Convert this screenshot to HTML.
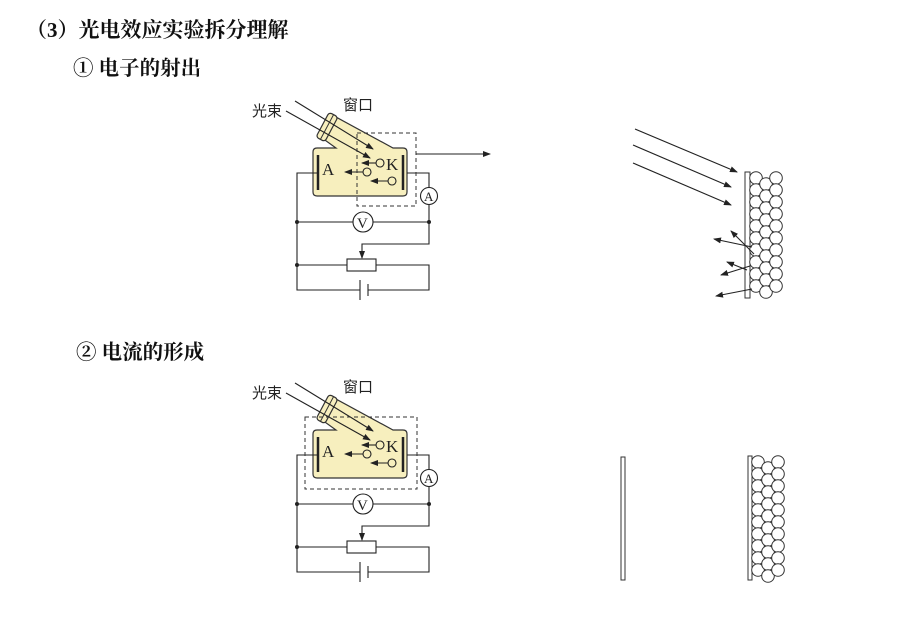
<!DOCTYPE html>
<html><head><meta charset="utf-8"><style>
body{margin:0;background:#fff;}
svg{display:block;}
.t{font-family:"Liberation Serif","Noto Serif CJK SC","Noto Sans CJK SC",serif;font-weight:bold;fill:#111;}
.s{font-family:"Liberation Sans","Noto Sans CJK SC",sans-serif;fill:#222;font-size:15px;}
.l{font-family:"Liberation Serif",serif;fill:#222;}
</style></head><body>
<svg width="921" height="632" viewBox="0 0 921 632" xmlns="http://www.w3.org/2000/svg">
<defs>
<marker id="ah" markerWidth="8" markerHeight="8" refX="7" refY="4" orient="auto" markerUnits="userSpaceOnUse"><path d="M0,1 L8,4 L0,7 Z" fill="#222"/></marker>
<g id="col"><circle cx="0" cy="0" r="6.3"/><circle cx="0" cy="12" r="6.3"/><circle cx="0" cy="24" r="6.3"/><circle cx="0" cy="36" r="6.3"/><circle cx="0" cy="48" r="6.3"/><circle cx="0" cy="60" r="6.3"/><circle cx="0" cy="72" r="6.3"/><circle cx="0" cy="84" r="6.3"/><circle cx="0" cy="96" r="6.3"/><circle cx="0" cy="108" r="6.3"/></g>
<g id="circ">
  <text class="s" x="252" y="116">光束</text>
  <text class="s" x="343" y="110">窗口</text>
  <path d="M317,148 L336,148 L322,138 L334,116 L393,148 L403,148 Q407,148 407,152 L407,192 Q407,196 403,196 L317,196 Q313,196 313,192 L313,152 Q313,148 317,148 Z" fill="#f7efbe" stroke="#333" stroke-width="1.2"/>
  <g transform="translate(327,127) rotate(28)"><rect x="-5" y="-14" width="10" height="28" rx="3" fill="#f7efbe" stroke="#333" stroke-width="1.2"/><line x1="0" y1="-14" x2="0" y2="14" stroke="#333" stroke-width="1"/></g>
  <line x1="295" y1="101" x2="373" y2="149" stroke="#222" stroke-width="1.1" marker-end="url(#ah)"/>
  <line x1="286" y1="111" x2="370" y2="158" stroke="#222" stroke-width="1.1" marker-end="url(#ah)"/>
  <line x1="318" y1="155" x2="318" y2="190" stroke="#222" stroke-width="2.5"/>
  <line x1="403" y1="155" x2="403" y2="190" stroke="#222" stroke-width="2.5"/>
  <text class="l" x="322" y="175" font-size="17">A</text>
  <text class="l" x="386" y="170" font-size="17">K</text>
  <g stroke="#222" stroke-width="1.1" fill="none">
   <circle cx="380" cy="163" r="4"/><line x1="376" y1="163" x2="362" y2="163" marker-end="url(#ah)"/>
   <circle cx="367" cy="172" r="4"/><line x1="363" y1="172" x2="345" y2="172" marker-end="url(#ah)"/>
   <circle cx="392" cy="181" r="4"/><line x1="388" y1="181" x2="371" y2="181" marker-end="url(#ah)"/>
  </g>
  <g stroke="#222" stroke-width="1.1" fill="none">
   <path d="M318,173 L297,173 L297,290 L360,290"/>
   <path d="M368,290 L429,290 L429,265 L376,265"/>
   <path d="M347,265 L297,265"/>
   <path d="M407,173 L429,173 L429,188"/>
   <path d="M429,204 L429,244 L362,244 L362,258" marker-end="url(#ah)"/>
   <path d="M297,222 L353,222 M373,222 L429,222"/>
   <rect x="347" y="259" width="29" height="12" fill="#fff"/>
   <line x1="360" y1="280" x2="360" y2="300"/>
   <line x1="368" y1="284" x2="368" y2="296"/>
   <circle cx="429" cy="196" r="8.5" fill="#fff"/>
   <circle cx="363" cy="222" r="10" fill="#fff"/>
  </g>
  <text class="l" x="424" y="201" font-size="13">A</text>
  <text class="l" x="357" y="228" font-size="15">V</text>
  <circle cx="297" cy="222" r="2" fill="#222"/><circle cx="429" cy="222" r="2" fill="#222"/><circle cx="297" cy="265" r="2" fill="#222"/>
</g>
</defs>
<text class="t" x="26" y="37" font-size="21">（3）光电效应实验拆分理解</text>
<text class="t" x="73" y="75" font-size="20.5">① 电子的射出</text>
<text class="t" x="76" y="359" font-size="20.5">② 电流的形成</text>

<use href="#circ"/>
<rect x="357" y="133" width="59" height="73" fill="none" stroke="#333" stroke-width="1" stroke-dasharray="4,3"/>
<line x1="416" y1="154" x2="490" y2="154" stroke="#222" stroke-width="1.1" marker-end="url(#ah)"/>

<use href="#circ" transform="translate(0,282)"/>
<rect x="305" y="417" width="112" height="72" fill="none" stroke="#333" stroke-width="1" stroke-dasharray="4,3"/>

<g stroke="#222" stroke-width="1.1" fill="none">
 <line x1="635" y1="129" x2="737" y2="172" marker-end="url(#ah)"/>
 <line x1="633" y1="145" x2="731" y2="187" marker-end="url(#ah)"/>
 <line x1="633" y1="163" x2="731" y2="205" marker-end="url(#ah)"/>
</g>
<rect x="745" y="172" width="5" height="126" fill="#fff" stroke="#333" stroke-width="1"/>
<g fill="#fff" stroke="#333" stroke-width="1">
 <use href="#col" x="756" y="178"/><use href="#col" x="766" y="184"/><use href="#col" x="776" y="178"/>
</g>
<g stroke="#222" stroke-width="1.1" fill="none">
 <line x1="752" y1="247" x2="714" y2="239" marker-end="url(#ah)"/>
 <line x1="754" y1="254" x2="731" y2="231" marker-end="url(#ah)"/>
 <line x1="747" y1="270" x2="727" y2="262" marker-end="url(#ah)"/>
 <line x1="750" y1="266" x2="721" y2="275" marker-end="url(#ah)"/>
 <line x1="752" y1="289" x2="716" y2="296" marker-end="url(#ah)"/>
</g>

<rect x="621" y="457" width="4" height="123" fill="#fff" stroke="#333" stroke-width="1"/>
<rect x="748" y="456" width="4" height="124" fill="#fff" stroke="#333" stroke-width="1"/>
<g fill="#fff" stroke="#333" stroke-width="1">
 <use href="#col" x="758" y="462"/><use href="#col" x="768" y="468"/><use href="#col" x="778" y="462"/>
</g>
</svg>
</body></html>
